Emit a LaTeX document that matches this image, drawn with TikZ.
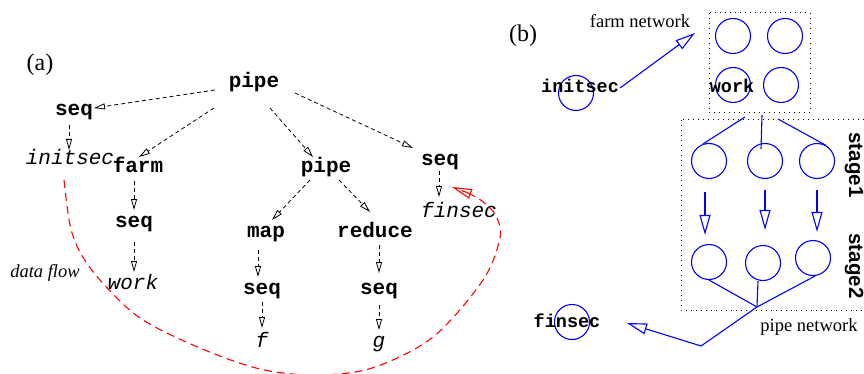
\documentclass[tikz,border=0pt]{standalone}
\usepackage{fontspec}
\setmainfont{Liberation Serif}
\setsansfont{Liberation Sans}
\setmonofont{Liberation Mono}
\usetikzlibrary{arrows.meta,calc}
\tikzset{
 ta/.style={font=\fontsize{21}{21}\selectfont\ttfamily\bfseries, inner sep=0pt, anchor=base},
 tai/.style={font=\fontsize{21}{21}\selectfont\ttfamily\itshape, inner sep=0pt, anchor=base},
 tb/.style={font=\fontsize{18.5}{18.5}\selectfont\ttfamily\bfseries, inner sep=0pt, anchor=base},
 serif/.style={font=\fontsize{18.5}{18.5}\selectfont, inner sep=0pt, anchor=base},
 serifit/.style={font=\fontsize{18.5}{18.5}\selectfont\itshape, inner sep=0pt, anchor=base},
 lbl/.style={font=\fontsize{24}{24}\selectfont, inner sep=0pt, anchor=base},
 stg/.style={font=\fontsize{20.5}{20.5}\selectfont\sffamily\bfseries, inner sep=0pt, anchor=base, rotate=-90},
 arrA/.style={draw=black, line width=0.8pt, dash pattern=on 4pt off 3pt, -{Triangle[open,length=11pt,width=6pt]}},
 arrB/.style={draw=blue, line width=1.1pt, -{Triangle[open,length=20pt,width=11pt]}},
 lnB/.style={draw=blue, line width=1.1pt},
 circ/.style={circle, draw=blue, line width=1.1pt, minimum size=35pt, inner sep=0pt},
 dotbox/.style={draw=black, line width=1pt, dash pattern=on 1pt off 4pt},
 flow/.style={draw=red, line width=1.1pt, dash pattern=on 8pt off 5pt, -{Triangle[open,length=20pt,width=10pt]}},
}
\begin{document}
\begin{tikzpicture}[x=1pt,y=-1pt]
\useasboundingbox (0,0) rectangle (864,374);
\clip (0,0) rectangle (864,374);
% ---------------- (a) ----------------
\node[lbl] (la) at (40,71) {(a)};
\node[ta] (pA) at (254,88) {pipe};
\node[ta] (sL) at (74,116) {seq};
\node[tai] (iA) at (70,165) {initsec};
\node[ta] (fA) at (138,173) {farm};
\node[ta] (sF) at (134,227) {seq};
\node[tai] (wA) at (133,289) {work};
\node[ta] (pM) at (326,173) {pipe};
\node[ta] (mA) at (266,237) {map};
\node[ta] (rA) at (375,237) {reduce};
\node[ta] (sM) at (262,294) {seq};
\node[ta] (sR2) at (379,294) {seq};
\node[tai] (fF) at (262,347) {f};
\node[tai] (gG) at (379,347) {g};
\node[ta] (sR) at (440,166) {seq};
\node[tai] (fin) at (459,217) {finsec};
\node[serifit] (df) at (45,277) {data flow};

\draw[arrA] ($(pA.base)+(-39,2)$) -- ($(sL.base)+(20,-8)$);
\draw[arrA] ($(pA.base)+(-40,20)$) -- ($(fA.base)+(1,-16)$);
\draw[arrA] ($(pA.base)+(16,20)$) -- ($(pM.base)+(-13,-16)$);
\draw[arrA] ($(pA.base)+(41,5)$) -- ($(sR.base)+(-27,-18)$);
\draw[arrA] ($(sL.base)+(-5,9)$) -- ($(iA.base)+(-1,-15)$);
\draw[arrA] ($(fA.base)+(-4,8)$) -- ($(sF.base)+(0,-17)$);
\draw[arrA] ($(sF.base)+(0,15)$) -- ($(wA.base)+(1,-17)$);
\draw[arrA] ($(pM.base)+(-16,7)$) -- ($(mA.base)+(6,-17)$);
\draw[arrA] ($(pM.base)+(13,7)$) -- ($(rA.base)+(-5,-25)$);
\draw[arrA] ($(mA.base)+(-8,13)$) -- ($(sM.base)+(-4,-17)$);
\draw[arrA] ($(sM.base)+(0,8)$) -- ($(fF.base)+(0,-19)$);
\draw[arrA] ($(rA.base)+(4,8)$) -- ($(sR2.base)+(0,-21)$);
\draw[arrA] ($(sR2.base)+(0,11)$) -- ($(gG.base)+(0,-17)$);
\draw[arrA] ($(sR.base)+(-1,5)$) -- ($(fin.base)+(-20,-20)$);

\coordinate (dfs) at ($(iA.base)+(-6,15)$);
\coordinate (dfe) at (452,187);
\draw[flow] plot[smooth, tension=0.55] coordinates {(dfs) (70,225) (80,252) (100,280) (140,318) (200,348) (260,369) (315,375) (372,368) (433,337) (483,280) (500,238) (497,218) (488,206) (474,196) (dfe)};

% ---------------- (b) ----------------
\node[lbl] (lb) at (523,42) {(b)};
\node[serif] (fn) at (640,28) {farm network};
\node[serif] (pn) at (809,331) {pipe network};
\node[stg] (st1) at (849,165) {stage1};
\node[stg] (st2) at (849,266) {stage2};

\draw[dotbox] (709,13) rectangle (810,113);
\draw[dotbox] (681,120) rectangle (890,310);

\node[circ] (ci) at (576,93) {};
\node[tb] (iB) at (580,93) {initsec};
\node[circ] (w1) at (733,36) {};
\node[circ] (w2) at (785,36) {};
\node[circ] (w3) at (733,85) {};
\node[circ] (w4) at (781,85) {};
\node[tb] (wB) at (732,93) {work};

\node[circ] (s11) at (709,161) {};
\node[circ] (s12) at (765,161) {};
\node[circ] (s13) at (817,161) {};
\node[circ] (s21) at (709,262) {};
\node[circ] (s22) at (763,263) {};
\node[circ] (s23) at (813,258) {};

\node[circ] (cf) at (572,322) {};
\node[tb] (fB) at (567,327) {finsec};

\coordinate (farmtip) at (695,33);
\draw[arrB] ($(iB.base east)+(1,-5)$) -- (farmtip);

\coordinate (fo1) at (745,117);
\coordinate (fo2) at (762,115);
\coordinate (fo3) at (778,119);
\draw[lnB] (fo1) -- (s11.110);
\draw[lnB] (fo2) -- ($(s12)+(-4,-12)$);
\draw[lnB] (fo3) -- (s13.60);

\draw[arrB] ($(s11.south)+(-4,13)$) -- ($(s21.north)+(-4,-9)$);
\draw[arrB] ($(s12.south)+(0,11)$) -- ($(s22.north)+(2,-15)$);
\draw[arrB] ($(s13.south)+(0,11)$) -- ($(s23.north)+(4,-8)$);

\coordinate (jn) at (757,307);
\coordinate (kn) at (701,346);
\coordinate (fintip) at (627,323);
\draw[lnB] (s21.south) -- (jn);
\draw[lnB] ($(s22.south)+(-5,0)$) -- (jn);
\draw[lnB] ($(s23.south)+(2,0)$) -- (jn);
\draw[arrB] (jn) -- (kn) -- (fintip);
\end{tikzpicture}
\end{document}
